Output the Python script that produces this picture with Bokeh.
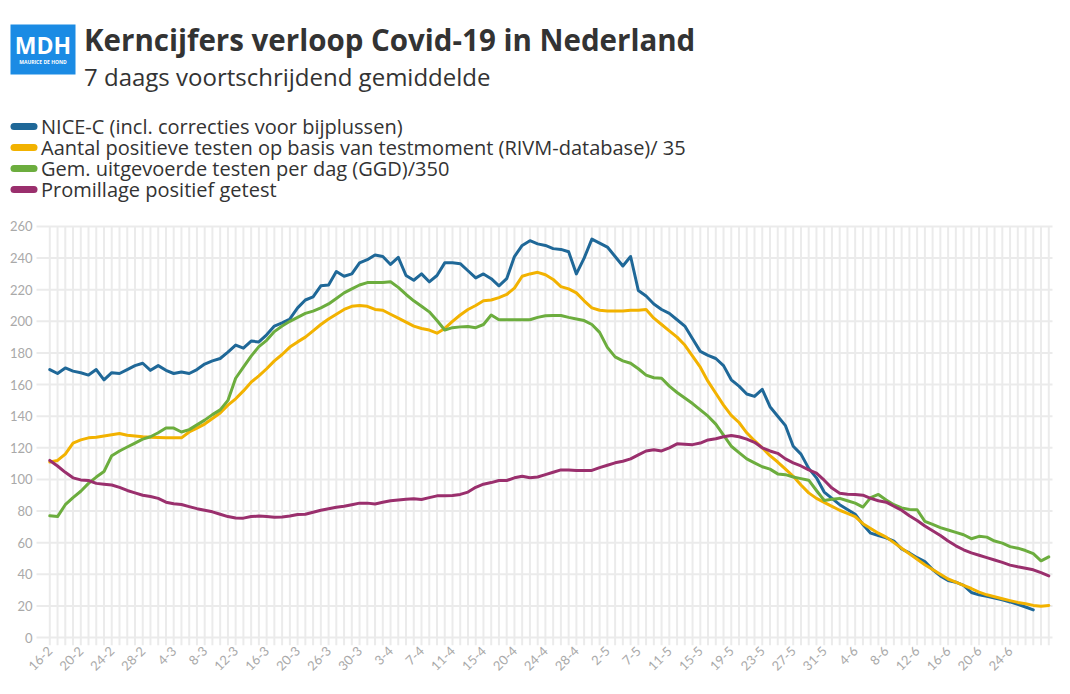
import math
import pandas as pd
from bokeh.plotting import figure
from bokeh.models import Range1d, FixedTicker
from bokeh.embed import file_html
from bokeh.resources import INLINE
from bokeh.core.properties import value

# ---------------- data ----------------
all_days = pd.date_range("2021-02-16", "2021-06-29")
skipped_days = ["2021-03-21", "2021-03-22", "2021-04-16", "2021-05-03"]
dates = [f"{d.day}-{d.month}" for d in all_days if d.strftime("%Y-%m-%d") not in skipped_days]

tick_labels = ["16-2", "20-2", "24-2", "28-2", "4-3", "8-3", "12-3", "16-3", "20-3",
               "26-3", "30-3", "3-4", "7-4", "11-4", "15-4", "20-4", "24-4", "28-4",
               "2-5", "7-5", "11-5", "15-5", "19-5", "23-5", "27-5", "31-5", "4-6",
               "8-6", "12-6", "16-6", "20-6", "24-6"]

nice_c = [169.5, 167, 170.5, 168.5, 167.5, 166, 169.5, 163, 167.5, 167,
          169.5, 172, 173.5, 169, 172, 169, 167, 168, 167, 169.5,
          173, 175, 176.5, 180.5, 185, 183, 187.5, 187, 191.5, 197,
          199, 201.5, 208.5, 213.5, 215.5, 222.5, 223, 231.5, 228.5, 230,
          237, 239, 242, 241, 236, 240.5, 229, 226, 230, 225,
          229, 237, 237, 236.5, 232, 227.5, 230, 227, 222.5, 227,
          241, 248, 251, 249, 248, 246, 245.5, 244, 230, 240,
          252, 249.5, 247, 241, 235, 241, 219.5, 216, 211, 207.5,
          205, 201, 197, 189, 181, 178.5, 176.5, 172, 163, 159,
          154, 152.5, 157, 146, 140, 134, 121, 116, 107, 101,
          92, 88, 84, 81, 78, 71.5, 66, 64.5, 63, 61,
          56, 53.5, 50.5, 48, 43, 39, 36, 35, 33, 28.5,
          27, 26, 25, 23.8, 22.5, 21, 19.3, 17.5]

positief = [111, 112, 116, 123, 125, 126.3, 126.7, 127.5, 128.3, 129,
            128, 127.5, 127, 126.7, 126.5, 126.3, 126.3, 126.3, 130, 132.5,
            135, 138.5, 142, 147, 151, 156, 161.5, 165.5, 170, 175,
            179, 183.7, 187, 190, 194, 198, 201.5, 204.5, 207.5, 209.5,
            210, 209.5, 207.5, 207, 204.5, 202, 199.5, 197, 195.5, 194.5,
            192.5, 195.5, 200, 204, 207.5, 210, 213, 213.5, 215, 217,
            221, 228.5, 230, 231, 229.5, 226.5, 222, 220.5, 218, 213,
            208.5, 207, 206.5, 206.5, 206.5, 207, 207, 207.5, 202, 198,
            194, 190, 185, 178, 171, 162, 154.5, 147, 140.5, 136,
            129.5, 124.5, 120, 115, 111, 106.5, 102, 96.5, 91.5, 88,
            85.5, 83, 80.5, 78.5, 76.5, 72, 69, 66, 63.5, 60,
            56.5, 53, 49.5, 46, 43, 40, 37, 35, 33, 31,
            28.7, 27, 25.8, 24.5, 23.3, 22.2, 21.4, 20.3, 19.8, 20.3]

testen = [77, 76.5, 84, 88.5, 92.5, 97.5, 101.5, 105, 115, 118,
          120.5, 123, 125.5, 127, 129.5, 132.5, 132.5, 130, 131.5, 134.5,
          137.5, 141, 144, 150, 164, 171, 178, 184, 188, 193.5,
          197, 200, 202.5, 205, 206.5, 208.5, 211, 214.5, 218, 220.5,
          223, 224.5, 224.5, 224.5, 225, 221.5, 217, 213, 209.5, 206,
          200.5, 194.5, 196, 196.5, 196.8, 196, 198, 204, 201, 201,
          201, 201, 201, 202.5, 203.5, 203.7, 203.7, 202.5, 201.5, 200.5,
          198, 193, 183.5, 177.5, 175, 173.5, 170, 166, 164.3, 164,
          159, 155, 151.5, 148, 144, 140, 135, 128, 121, 117,
          113, 110.5, 108, 106.5, 103.5, 103, 101.5, 100.5, 99.5, 93,
          86.7, 87.5, 88, 86.5, 85, 82.5, 88.5, 90.5, 87, 84,
          82, 81, 80.8, 73.5, 71.5, 69.5, 68, 66.5, 65, 62.5,
          64, 63.5, 61, 59.7, 57.5, 56.5, 55, 53, 48.5, 51]

promillage = [112, 108.5, 104.5, 101, 99.7, 99.3, 97.5, 97, 96.5, 95,
              93, 91.5, 90, 89.2, 88, 85.6, 84.6, 84.1, 82.8, 81.5,
              80.5, 79.5, 78, 76.5, 75.6, 75.5, 76.5, 76.8, 76.5, 76.1,
              76.3, 76.8, 77.8, 78, 79.2, 80.5, 81.4, 82.4, 83, 84,
              85, 85, 84.5, 85.5, 86.5, 87, 87.5, 87.7, 87.3, 88.5,
              89.6, 89.6, 89.8, 90.5, 92, 95, 97, 98, 99.3, 99.3,
              101, 102, 101, 101.5, 103, 104.5, 106, 106, 105.7, 105.7,
              105.7, 107.5, 109, 110.5, 111.5, 113, 115.5, 118, 118.7, 118,
              120, 122.5, 122.3, 122, 123, 125, 125.7, 127, 127.8, 127,
              125.5, 123.5, 120, 118, 116.5, 113, 110.5, 108.5, 106, 104,
              99.5, 94.5, 91.3, 90.6, 90.5, 90, 88, 86.5, 85.6, 83,
              80.5, 77, 74, 70.5, 67.5, 64.5, 61, 58, 55.5, 53.5,
              52, 50.5, 49, 47.5, 45.8, 44.7, 43.8, 42.8, 41, 39]

series_names = ["NICE-C (incl. correcties voor bijplussen)",
                "Aantal positieve testen op basis van testmoment (RIVM-database)/ 35",
                "Gem. uitgevoerde testen per dag (GGD)/350",
                "Promillage positief getest"]
series_values = [nice_c, positief, testen, promillage]
series_colors = ["#1f6898", "#f2b200", "#6cad3e", "#9a2f6d"]
y_ticks = list(range(0, 261, 20))
Y_MAX = 260

FONT = "Open Sans"
AXIS_FONT = "Lato"
TEXT_DARK = "#333333"
LABEL_GREY = "#a9a9a9"
GRID_GREY = "#ebebeb"

# ---------------- page geometry (pixels) ----------------
W, H = 1070, 694
FIRST_CAT_PX = 49.3      # x pixel of first category
CAT_PX = 7.744           # pixels per category
ZERO_PX = 637            # y pixel of value 0
UNIT_PX = 1.5808         # pixels per value unit
PLOT_LEFT_PX, PLOT_RIGHT_PX = 36, 1052
TICK_END_PX = 645        # vertical grid lines run down to here (tick marks)


def xd(px):
    return (px - FIRST_CAT_PX) / CAT_PX


def yd(py):
    return (ZERO_PX - py) / UNIT_PX


n = len(dates)
p = figure(width=W, height=H, x_range=Range1d(xd(0), xd(W)),
           y_range=Range1d(yd(TICK_END_PX), yd(0)),
           min_border_left=0, min_border_right=0, min_border_top=0,
           min_border_bottom=H - TICK_END_PX,
           y_axis_location=None, output_backend="svg", toolbar_location=None)
p.outline_line_color = None
p.grid.visible = False

# x axis (real axis below the plot area)
xt = FixedTicker(ticks=list(range(n)), minor_ticks=[])
p.xaxis.ticker = xt
label_at = {dates.index(t): t for t in tick_labels}
p.xaxis.major_label_overrides = {i: label_at.get(i, "") for i in range(n)}
p.xaxis.major_label_orientation = math.pi / 4
p.xaxis.axis_line_color = None
p.xaxis.minor_tick_line_color = None
p.xaxis.major_tick_line_color = None
p.xaxis.major_tick_in = 0
p.xaxis.major_tick_out = 0
p.xaxis.major_label_standoff = 3
p.xaxis.major_label_text_font = AXIS_FONT
p.xaxis.major_label_text_font_size = "13px"
p.xaxis.major_label_text_color = LABEL_GREY

# grid lines, one per day and one per y tick
cats = list(range(n))
p.segment(x0=cats, x1=cats, y0=[yd(TICK_END_PX)] * n, y1=[Y_MAX] * n,
          line_color=GRID_GREY, line_width=2)
p.segment(x0=[xd(PLOT_LEFT_PX)] * len(y_ticks), x1=[xd(PLOT_RIGHT_PX)] * len(y_ticks),
          y0=y_ticks, y1=y_ticks, line_color=GRID_GREY, line_width=2)

# y tick labels
p.text(x=[xd(32)] * len(y_ticks), y=y_ticks, text=[str(t) for t in y_ticks],
       text_font=value(AXIS_FONT), text_font_size="13px", text_color=LABEL_GREY,
       text_align="right", text_baseline="middle")

# series
for vals, col in zip(series_values, series_colors):
    p.line(x=list(range(len(vals))), y=vals, color=col, line_width=3,
           line_join="round", line_cap="round")

# ---------------- header ----------------
p.quad(left=[xd(10)], right=[xd(75)], top=[yd(24)], bottom=[yd(74)],
       fill_color="#1b8be4", line_color=None)
p.text(x=[xd(42.5)], y=[yd(44)], text=["MDH"], text_font=value(FONT),
       text_font_style="bold", text_font_size="23px", text_color="white",
       text_align="center", text_baseline="middle")
p.text(x=[xd(42.5)], y=[yd(61)], text=["MAURICE DE HOND"], text_font=value(FONT),
       text_font_style="bold", text_font_size="5px", text_color="white",
       text_align="center", text_baseline="middle")
p.text(x=[xd(83.5)], y=[yd(39)], text=["Kerncijfers verloop Covid-19 in Nederland"],
       text_font=value(FONT), text_font_style="bold", text_font_size="29.5px",
       text_color=TEXT_DARK, text_baseline="middle")
p.text(x=[xd(83.5)], y=[yd(76)], text=["7 daags voortschrijdend gemiddelde"],
       text_font=value(FONT), text_font_size="24px", text_color=TEXT_DARK,
       text_baseline="middle")

legend_rows_px = [126, 147, 168, 189]
p.segment(x0=[xd(13.5)] * 4, x1=[xd(33.5)] * 4,
          y0=[yd(r) for r in legend_rows_px], y1=[yd(r) for r in legend_rows_px],
          line_color=series_colors, line_width=7, line_cap="round")
p.text(x=[xd(40.5)] * 4, y=[yd(r) for r in legend_rows_px], text=series_names,
       text_font=value(FONT), text_font_size="20px", text_color=TEXT_DARK,
       text_baseline="middle")

open("out.html", "w").write(file_html(p, INLINE))
